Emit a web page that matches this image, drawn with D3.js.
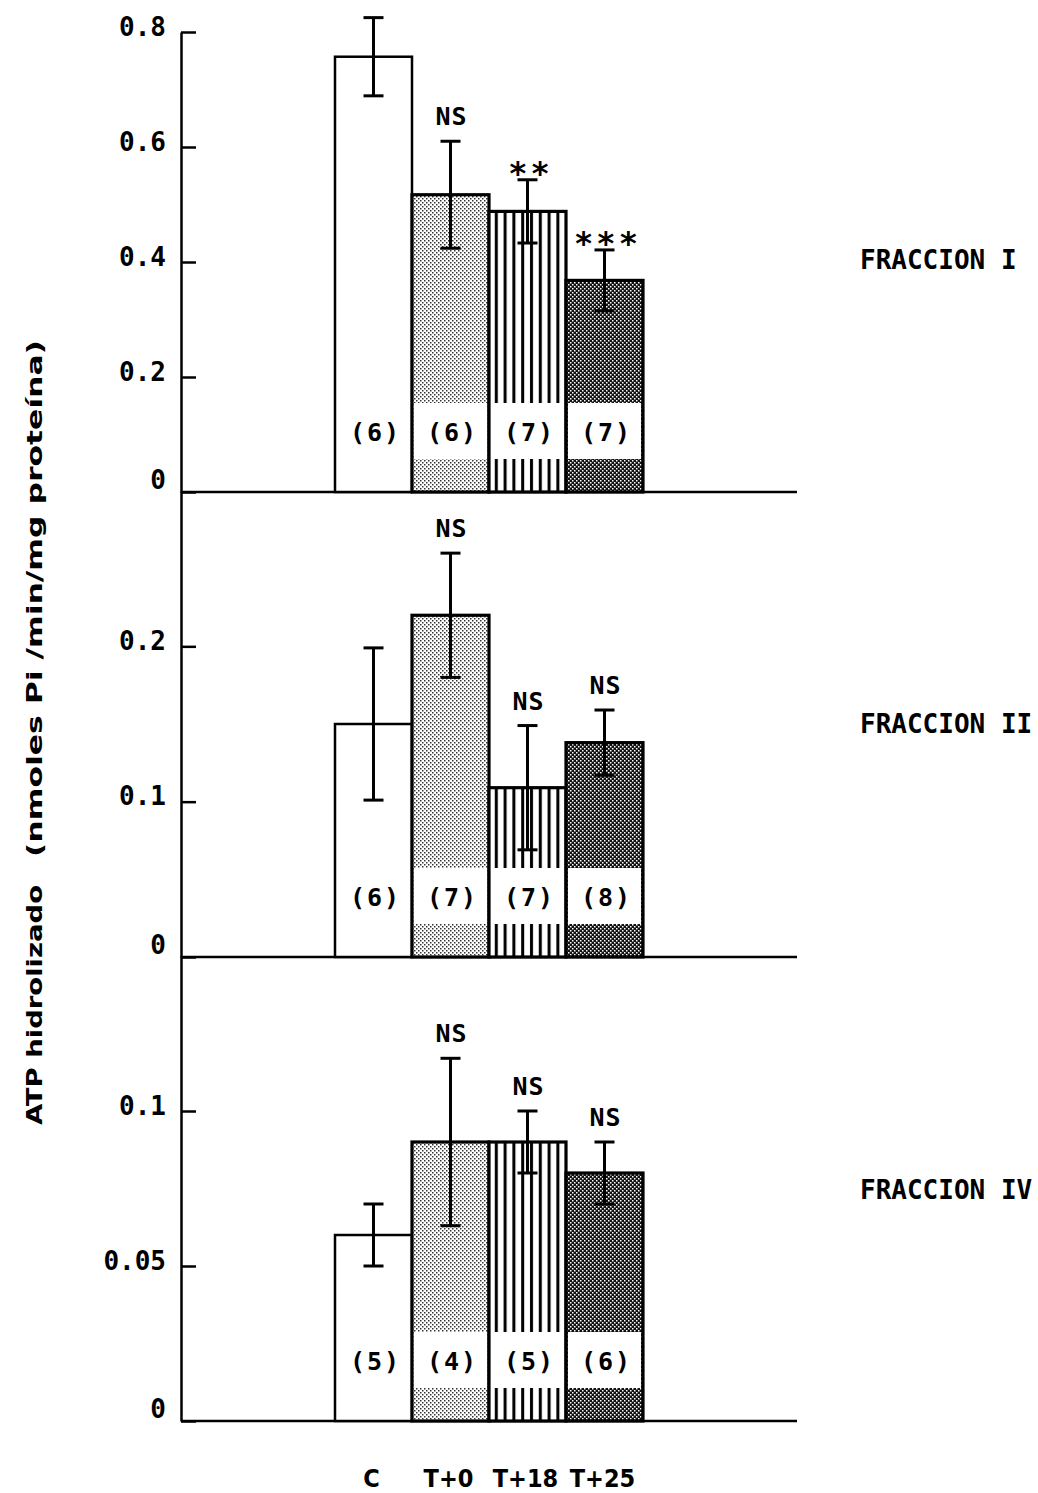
<!DOCTYPE html>
<html><head><meta charset="utf-8">
<script src="https://cdn.jsdelivr.net/npm/d3@7"></script>
<style>body{margin:0;background:#fff}</style>
</head><body><svg id="c" width="1038" height="1493"></svg>
<script>
const categories = ["C", "T+0", "T+18", "T+25"];
const xLabels = ["C", "T+0", "T+18", "T+25"];
const fractionNames = ["FRACCION I", "FRACCION II", "FRACCION IV"];

const meansI = [0.757, 0.517, 0.488, 0.368];
const errI   = [0.068, 0.093, 0.055, 0.053];
const nI     = ["(6)", "(6)", "(7)", "(7)"];
const sigI   = ["", "NS", "**", "***"];

const meansII = [0.150, 0.220, 0.109, 0.138];
const errII   = [0.049, 0.040, 0.040, 0.021];
const nII     = ["(6)", "(7)", "(7)", "(8)"];
const sigII   = ["", "NS", "NS", "NS"];

const meansIV = [0.060, 0.090, 0.090, 0.080];
const errIV   = [0.010, 0.027, 0.010, 0.010];
const nIV     = ["(5)", "(4)", "(5)", "(6)"];
const sigIV   = ["", "NS", "NS", "NS"];

const ticksI = [0, 0.2, 0.4, 0.6, 0.8];
const tickLabelsI = ["0", "0.2", "0.4", "0.6", "0.8"];
const ticksII = [0, 0.1, 0.2];
const tickLabelsII = ["0", "0.1", "0.2"];
const ticksIV = [0, 0.05, 0.1];
const tickLabelsIV = ["0", "0.05", "0.1"];

const yTitleA = "ATP hidrolizado";
const yTitleB = "(nmoles Pi /min/mg proteína)";

const panels = [
  {name: fractionNames[0], means: meansI, err: errI, n: nI, sig: sigI, ticks: ticksI, tl: tickLabelsI, max: 0.8, range: [492, 32], labelY: 260},
  {name: fractionNames[1], means: meansII, err: errII, n: nII, sig: sigII, ticks: ticksII, tl: tickLabelsII, max: 0.3, range: [957, 491], labelY: 724},
  {name: fractionNames[2], means: meansIV, err: errIV, n: nIV, sig: sigIV, ticks: ticksIV, tl: tickLabelsIV, max: 0.15, range: [1421, 956], labelY: 1190}
];

const svg = d3.select("#c");
const mono = "'DejaVu Sans Mono', 'Liberation Mono', monospace";
const cond = "'DejaVu Sans Condensed', 'DejaVu Sans', sans-serif";

// patterns
const defs = svg.append("defs");
const p1 = defs.append("pattern").attr("id", "pLight").attr("patternUnits", "userSpaceOnUse").attr("width", 4).attr("height", 4);
p1.append("rect").attr("width", 4).attr("height", 4).attr("fill", "#fff");
p1.append("rect").attr("x", 0).attr("y", 0).attr("width", 1.5).attr("height", 1.5).attr("fill", "#333");
p1.append("rect").attr("x", 2).attr("y", 2).attr("width", 1.5).attr("height", 1.5).attr("fill", "#333");
const p2 = defs.append("pattern").attr("id", "pLines").attr("patternUnits", "userSpaceOnUse").attr("width", 8.8).attr("height", 10);
p2.append("rect").attr("width", 8.8).attr("height", 10).attr("fill", "#fff");
p2.append("rect").attr("x", 2).attr("y", 0).attr("width", 3).attr("height", 10).attr("fill", "#000");
const p3 = defs.append("pattern").attr("id", "pDark").attr("patternUnits", "userSpaceOnUse").attr("width", 4).attr("height", 4);
p3.append("rect").attr("width", 4).attr("height", 4).attr("fill", "#111");
p3.append("rect").attr("x", 0).attr("y", 0).attr("width", 1.5).attr("height", 1.5).attr("fill", "#fff");
p3.append("rect").attr("x", 2).attr("y", 2).attr("width", 1.5).attr("height", 1.5).attr("fill", "#fff");
const fills = ["#fff", "url(#pLight)", "url(#pLines)", "url(#pDark)"];

const x = d3.scaleBand().domain(categories).range([335, 643]).padding(0);
const axisX = 181;

panels.forEach(p => {
  const y = d3.scaleLinear().domain([0, p.max]).range(p.range);
  const g = svg.append("g");
  const base = y(0);

  // y axis
  const ax = g.append("g").attr("transform", `translate(${axisX},0)`)
    .call(d3.axisLeft(y).tickValues(p.ticks).tickFormat((d, i) => p.tl[i]).tickSize(-15).tickSizeOuter(0).tickPadding(15));
  ax.select(".domain").attr("stroke", "#000").attr("stroke-width", 2.5);
  ax.selectAll(".tick line").attr("stroke", "#000").attr("stroke-width", 2.5);
  ax.selectAll(".tick text").attr("font-family", mono).attr("font-weight", "bold").attr("font-size", 26).attr("fill", "#000")
    .attr("dy", d => d === 0 ? "-0.15em" : "0.12em");

  // baseline
  g.append("line").attr("x1", axisX).attr("x2", 797).attr("y1", base).attr("y2", base)
    .attr("stroke", "#000").attr("stroke-width", 2.5);

  // bars
  categories.forEach((c, i) => {
    const bx = x(c), bw = x.bandwidth(), top = y(p.means[i]);
    g.append("rect").attr("x", bx).attr("y", top).attr("width", bw).attr("height", base - top)
      .attr("fill", fills[i]).attr("stroke", "#000").attr("stroke-width", i === 0 ? 2.5 : 3.2);
    // white label band
    g.append("rect").attr("x", bx + 2).attr("y", base - 89).attr("width", bw - 4).attr("height", 56).attr("fill", "#fff");
    g.append("text").attr("x", bx + bw / 2 + 2).attr("y", base - 60).attr("dy", "0.35em")
      .attr("text-anchor", "middle").attr("font-family", mono).attr("font-weight", "bold").attr("font-size", 25)
      .attr("letter-spacing", 2).text(p.n[i]);
    // error bar
    const cx = bx + bw / 2;
    const e1 = y(p.means[i] + p.err[i]), e2 = y(p.means[i] - p.err[i]);
    g.append("line").attr("x1", cx).attr("x2", cx).attr("y1", e1).attr("y2", e2).attr("stroke", "#000").attr("stroke-width", 3);
    [e1, e2].forEach(ey => g.append("line").attr("x1", cx - 10).attr("x2", cx + 10).attr("y1", ey).attr("y2", ey)
      .attr("stroke", "#000").attr("stroke-width", 3));
    // significance
    if (p.sig[i]) {
      const stars = p.sig[i].startsWith("*");
      g.append("text").attr("x", cx + (stars ? 3 : 1)).attr("y", stars ? e1 + 4 : e1 - 16)
        .attr("text-anchor", "middle").attr("font-family", mono).attr("font-weight", "bold")
        .attr("font-size", stars ? 32 : 25).attr("letter-spacing", stars ? 3 : 1).text(p.sig[i]);
    }
  });

  g.append("text").attr("x", 860).attr("y", p.labelY).attr("dy", "0.35em")
    .attr("font-family", mono).attr("font-weight", "bold").attr("font-size", 26).text(p.name);
});

// x labels
svg.append("g").selectAll("text").data(xLabels).join("text")
  .attr("x", (d, i) => x(categories[i]) + x.bandwidth() / 2 - 2).attr("y", 1487)
  .attr("text-anchor", "middle").attr("font-family", cond).attr("font-stretch", "condensed")
  .attr("font-weight", "bold").attr("font-size", 25).text(d => d);

// y title
const yt = svg.append("g").attr("transform", "translate(42,0) rotate(-90)");
yt.append("text").attr("x", -1125).attr("y", 0).attr("font-family", cond).attr("font-stretch", "condensed")
  .attr("font-weight", "bold").attr("font-size", 22).attr("textLength", 240).attr("lengthAdjust", "spacingAndGlyphs").text(yTitleA);
yt.append("text").attr("x", -857).attr("y", 0).attr("font-family", cond).attr("font-stretch", "condensed")
  .attr("font-weight", "bold").attr("font-size", 22).attr("textLength", 517).attr("lengthAdjust", "spacingAndGlyphs").text(yTitleB);
</script></body></html>
